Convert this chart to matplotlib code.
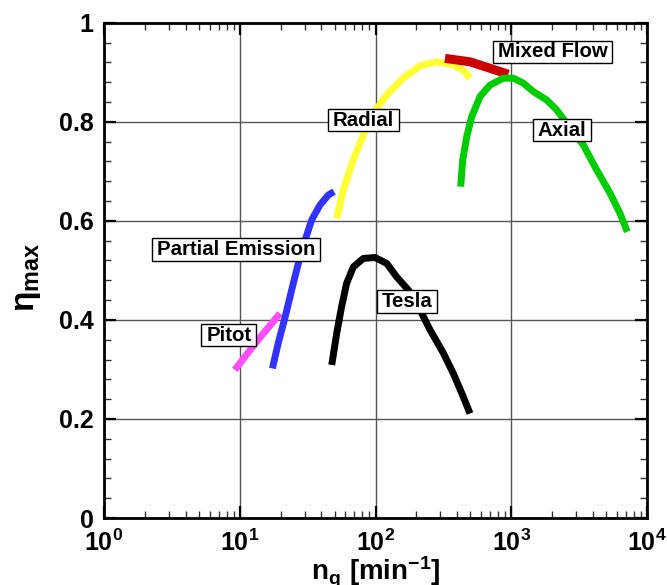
import math
import matplotlib
matplotlib.use("Agg")
import matplotlib.pyplot as plt
from matplotlib.path import Path
from matplotlib.ticker import FixedLocator, LogLocator, NullFormatter, FuncFormatter

plt.rcParams["font.family"] = ["Liberation Sans", "DejaVu Sans"]
plt.rcParams["font.weight"] = "bold"
plt.rcParams["mathtext.fontset"] = "custom"
plt.rcParams["mathtext.rm"] = "Liberation Sans:bold"
plt.rcParams["mathtext.bf"] = "Liberation Sans:bold"
plt.rcParams["mathtext.it"] = "Liberation Sans"
plt.rcParams["mathtext.sf"] = "Liberation Sans"

# Specific speed n_q [1/min] vs maximum efficiency, per machine type
pitot_nq = [9.2, 13.3, 19.8]
pitot_eta = [0.299, 0.356, 0.413]

partial_nq = [17.4, 19.2, 21.6, 24.1, 27.0, 30.3, 33.9, 39.0, 44.9, 49.5]
partial_eta = [0.302, 0.353, 0.406, 0.460, 0.514, 0.561, 0.602, 0.632, 0.652, 0.659]

tesla_nq = [47.6, 51.8, 56.3, 61.3, 68.7, 81.3, 99.1, 121, 143, 175, 213, 252, 316, 374, 432, 497]
tesla_eta = [0.309, 0.373, 0.427, 0.474, 0.507, 0.524, 0.526, 0.514, 0.487, 0.460,
             0.420, 0.380, 0.333, 0.292, 0.252, 0.211]

radial_nq = [51.8, 57.9, 68.6, 81.3, 96.3, 121, 160, 213, 282, 374, 443, 497]
radial_eta = [0.605, 0.662, 0.723, 0.773, 0.817, 0.854, 0.888, 0.913, 0.921, 0.915, 0.904, 0.888]

mixed_nq = [325, 497, 697, 951]
mixed_eta = [0.928, 0.921, 0.908, 0.896]

axial_nq = [424, 439, 470, 511, 589, 697, 874, 1036, 1227, 1454, 1824, 2161, 2559,
            3396, 4256, 5339, 6325, 7160]
axial_eta = [0.669, 0.723, 0.770, 0.810, 0.851, 0.874, 0.888, 0.888, 0.878, 0.861,
             0.844, 0.824, 0.797, 0.753, 0.703, 0.656, 0.615, 0.578]

series = [
    (pitot_nq, pitot_eta, "#ff4dff", 5.0, 2),
    (partial_nq, partial_eta, "#3333ff", 5.0, 3),
    (tesla_nq, tesla_eta, "#000000", 5.0, 3),
    (radial_nq, radial_eta, "#ffff33", 5.0, 3),
    (mixed_nq, mixed_eta, "#cc0000", 6.5, 4),
    (axial_nq, axial_eta, "#00cc00", 5.0, 5),
]

labels = [
    ("Mixed Flow", 2014, 0.941),
    ("Radial", 81.3, 0.803),
    ("Axial", 2365, 0.783),
    ("Partial Emission", 9.41, 0.542),
    ("Tesla", 170.6, 0.437),
    ("Pitot", 8.30, 0.369),
]


def label_box(x0, y0, width, height, mutation_size):
    """Rectangle with wider horizontal than vertical padding."""
    px = 0.24 * mutation_size
    py = 0.08 * mutation_size
    x0, y0 = x0 - px, y0 - py
    x1, y1 = x0 + width + 2 * px, y0 + height + 2 * py
    return Path([(x0, y0), (x1, y0), (x1, y1), (x0, y1), (x0, y0)], closed=True)


fig = plt.figure(figsize=(6.67, 5.85), dpi=100)
ax = fig.add_axes([104 / 667, (585 - 518) / 585, 543 / 667, (518 - 22.7) / 585])

for x, y, c, lw, z in series:
    ax.plot(x, y, color=c, lw=lw, solid_capstyle="butt", solid_joinstyle="round", zorder=z)

for text, x, y in labels:
    ax.text(x, y, text, ha="center", va="center", fontsize=14.7, fontweight="bold",
            zorder=10,
            bbox=dict(boxstyle=label_box, facecolor="white", edgecolor="black", lw=1.0))

ax.set_xscale("log")
ax.set_xlim(1, 1e4)
ax.set_ylim(0, 1)

ax.xaxis.set_major_locator(FixedLocator([1, 10, 100, 1000, 10000]))
ax.xaxis.set_minor_locator(LogLocator(base=10, subs=range(2, 10), numticks=20))
ax.xaxis.set_minor_formatter(NullFormatter())
ax.xaxis.set_major_formatter(FuncFormatter(
    lambda v, p: r"$\mathbf{10^{%d}}$" % round(math.log10(v))))

ax.yaxis.set_major_locator(FixedLocator([0, 0.2, 0.4, 0.6, 0.8, 1.0]))
ax.yaxis.set_minor_locator(FixedLocator([i * 0.04 for i in range(26)]))
ax.yaxis.set_major_formatter(FuncFormatter(lambda v, p: "%g" % round(v, 2)))

ax.tick_params(which="both", direction="in", top=True, right=True)
ax.tick_params(which="major", length=8.5, width=1.6, labelsize=18)
ax.tick_params(which="minor", length=5, width=1.0, color="#333333")
ax.tick_params(axis="x", which="major", pad=8.5)
ax.tick_params(axis="y", which="major", pad=7.5)
for lab in ax.get_yticklabels():
    lab.set_fontweight("bold")

ax.grid(True, which="major", color="#555555", lw=1.0, zorder=0)
ax.set_axisbelow(True)
for s in ax.spines.values():
    s.set_linewidth(2.0)

ax.set_xlabel(r"$\mathbf{n_q\ [min^{-1}]}$", fontsize=20, labelpad=-1)
ax.set_ylabel(r"$\eta_{\mathbf{max}}$", fontsize=24)
ax.yaxis.set_label_coords(-0.112, 0.485)

fig.savefig("out.png", dpi=100)
